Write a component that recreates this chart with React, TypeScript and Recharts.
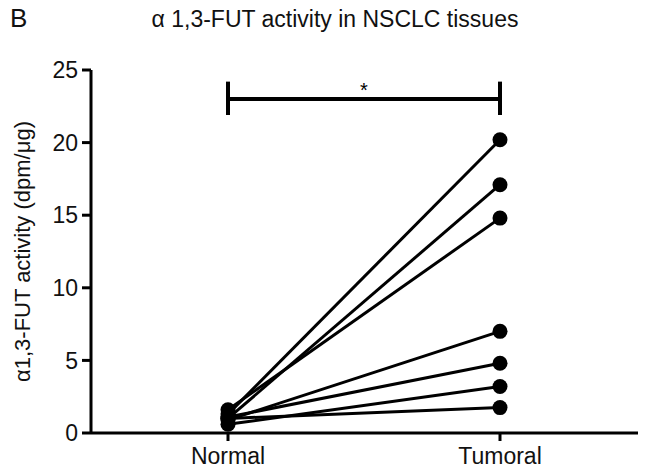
import { LineChart, Line, XAxis, YAxis, ReferenceLine } from "recharts";

const categories = ["Normal", "Tumoral"];
const normalValues = [1.3, 1.0, 1.6, 0.9, 1.1, 0.6, 1.0];
const tumoralValues = [20.2, 17.1, 14.8, 7.0, 4.8, 3.2, 1.75];
const yTicks = [0, 5, 10, 15, 20, 25];
const bracketY = 23;
const capLow = 21.9;
const capHigh = 24.2;

const FONT = "'Liberation Sans', Arial, Helvetica, sans-serif";

// one row per category, one key per paired sample
const data = categories.map((name, ci) => {
  const row: Record<string, string | number> = { name };
  const src = ci === 0 ? normalValues : tumoralValues;
  src.forEach((v, i) => {
    row[`s${i}`] = v;
  });
  return row;
});

export default function App() {
  return (
    <div style={{ position: "absolute", left: 0, top: 0, width: 646, height: 474, background: "#fff", fontFamily: FONT }}>
      <div style={{ position: "absolute", left: 10, top: 3, fontSize: 26, color: "#111" }}>B</div>
      <div style={{ position: "absolute", left: 0, width: 670, top: 6, textAlign: "center", fontSize: 23, color: "#111" }}>
        α 1,3-FUT activity in NSCLC tissues
      </div>
      <LineChart
        width={646}
        height={474}
        data={data}
        margin={{ top: 70, right: 8, bottom: 0, left: 8 }}
      >
        <XAxis
          dataKey="name"
          stroke="#000"
          strokeWidth={3}
          tickSize={8}
          tickMargin={7}
          height={41}
          padding={{ left: 137, right: 138 }}
          tick={{ fontSize: 23, fill: "#111", fontFamily: FONT }}
        />
        <YAxis
          domain={[0, 25]}
          ticks={yTicks}
          width={83}
          stroke="#000"
          strokeWidth={3}
          tickSize={9}
          tickMargin={4}
          tick={{ fontSize: 23, fill: "#111", fontFamily: FONT }}
          label={{
            value: "α1,3-FUT activity (dpm/μg)",
            angle: -90,
            position: "center",
            dx: -27,
            style: { fontSize: 22, fill: "#111", fontFamily: FONT },
          }}
        />
        {normalValues.map((_, i) => (
          <Line
            key={i}
            dataKey={`s${i}`}
            stroke="#000"
            strokeWidth={3}
            dot={{ r: 7.5, fill: "#000", stroke: "#000", strokeWidth: 0 }}
            activeDot={false}
            isAnimationActive={false}
          />
        ))}
        <ReferenceLine
          segment={[
            { x: "Normal", y: bracketY },
            { x: "Tumoral", y: bracketY },
          ]}
          stroke="#000"
          strokeWidth={4}
          label={{ value: "*", position: "top", offset: 2, style: { fontSize: 20, fill: "#000", fontFamily: FONT } }}
        />
        <ReferenceLine
          segment={[
            { x: "Normal", y: capLow },
            { x: "Normal", y: capHigh },
          ]}
          stroke="#000"
          strokeWidth={4}
        />
        <ReferenceLine
          segment={[
            { x: "Tumoral", y: capLow },
            { x: "Tumoral", y: capHigh },
          ]}
          stroke="#000"
          strokeWidth={4}
        />
      </LineChart>
    </div>
  );
}
